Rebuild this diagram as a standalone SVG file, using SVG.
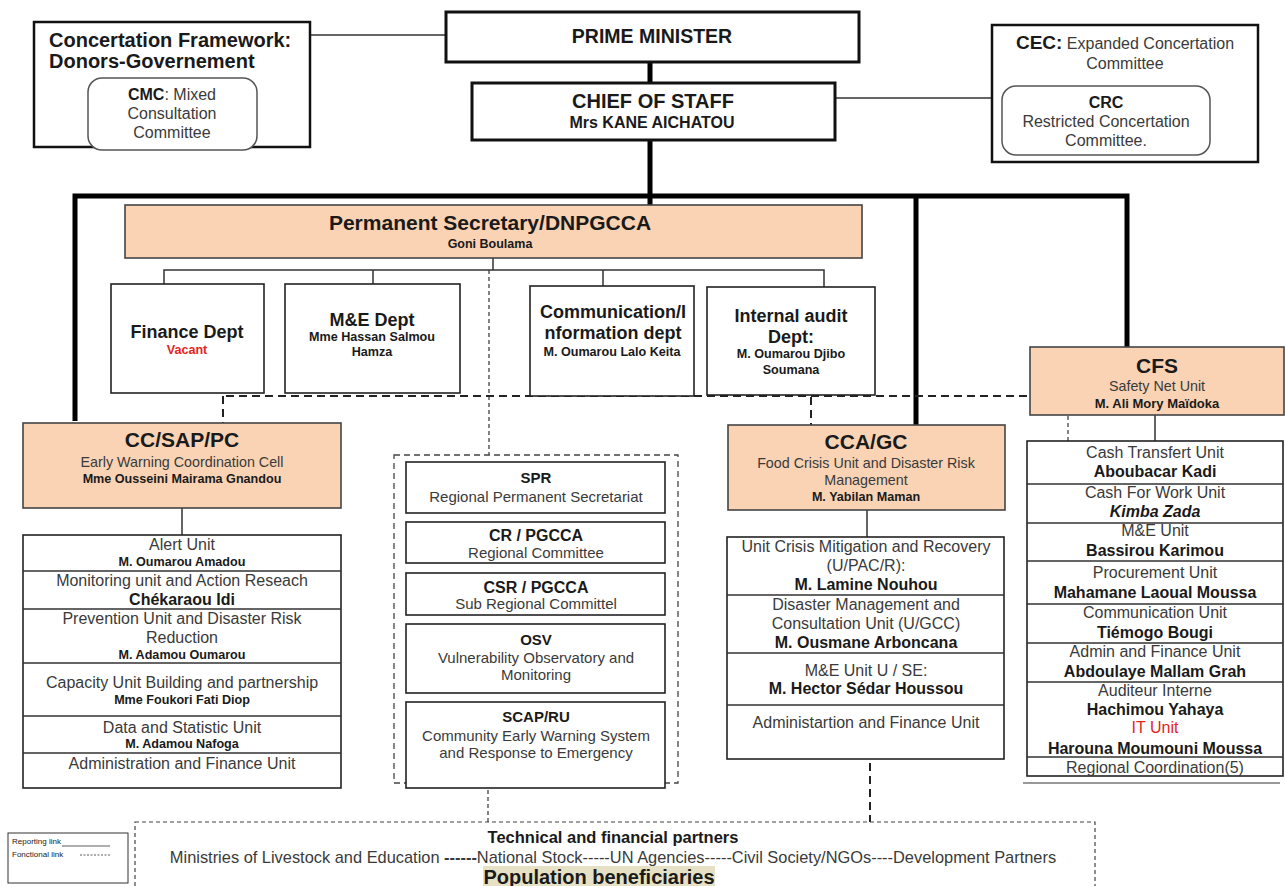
<svg xmlns="http://www.w3.org/2000/svg" width="1285" height="886" viewBox="0 0 1285 886">
<style>
text{font-family:"Liberation Sans",Arial,sans-serif;fill:#1a1a1a;text-anchor:middle}
.b{font-weight:bold}
.r{fill:#3a3a3a}
.s{text-anchor:start}
.box{fill:#fff;stroke:#222;stroke-width:1.6}
.peach{fill:#f9d3b4;stroke:#444;stroke-width:1.6}
.thick{stroke:#000;stroke-width:5;fill:none}
.thin{stroke:#333;stroke-width:1.5;fill:none}
.dash{stroke:#222;stroke-width:2;stroke-dasharray:8 5;fill:none}
.dot{stroke:#333;stroke-width:1.2;stroke-dasharray:4 3;fill:none}
.red{fill:#e3241d}
.t14{font-size:16px}
.t15{font-size:15px}
.sub{font-size:14.3px}
.n{font-size:16px;font-weight:bold}
.sm{font-size:12.6px;font-weight:bold}
.h{font-size:21px;font-weight:bold}
.d{font-size:18px;font-weight:bold}
</style>
<rect width="1285" height="886" fill="#fff"/>

<g id="connectors">
  <path class="thin" d="M310 35H446M835 98H992"/>
  <path class="thick" d="M650 62V83M650 140V205M75 421V196H1127V347M916 196V425"/>
  <path class="thin" d="M493 258V270M164 284V270H824V287M373 270V284M603 270V286"/>
  <path class="dot" d="M489 270V455"/>
  <path class="dash" d="M226 396H1030M223 396V423M811 397V425"/>
  <path class="dot" d="M1068 416V460"/>
  <path class="thin" d="M182 508V535M867 510V537M1155 415V441"/>
  <path class="dash" d="M870 737V822"/>
  <path class="dot" d="M488 783V822"/>
  <path d="M1023 783H1280" stroke="#777" stroke-width="1.5"/>
</g>

<g id="concertation">
  <rect x="34" y="22" width="276" height="125" fill="#fff" stroke="#111" stroke-width="2.5"/>
  <text class="s b" x="49" y="47" font-size="20">Concertation Framework:</text>
  <text class="s b" x="49" y="68" font-size="20">Donors-Governement</text>
  <rect x="88" y="78" width="169" height="72" rx="14" fill="#fff" stroke="#555" stroke-width="1.5"/>
  <text class="r" x="172" y="100" font-size="16"><tspan class="b" fill="#1a1a1a">CMC</tspan>: Mixed</text>
  <text class="r" x="172" y="119" font-size="16">Consultation</text>
  <text class="r" x="172" y="138" font-size="16">Committee</text>
</g>

<g id="prime-minister">
  <rect x="446" y="12" width="413" height="50" fill="#fff" stroke="#111" stroke-width="3"/>
  <text class="b" x="652" y="43" font-size="19.5">PRIME MINISTER</text>
</g>

<g id="chief-of-staff">
  <rect x="472" y="83" width="363" height="57" fill="#fff" stroke="#111" stroke-width="3"/>
  <text class="b" x="653" y="108" font-size="20">CHIEF OF STAFF</text>
  <text class="b" x="652" y="128" font-size="16">Mrs KANE AICHATOU</text>
</g>

<g id="cec">
  <rect x="992" y="25" width="266" height="137" fill="#fff" stroke="#111" stroke-width="2.5"/>
  <text class="r" x="1125" y="49" font-size="16"><tspan class="b" font-size="19" fill="#1a1a1a">CEC:</tspan> Expanded Concertation</text>
  <text class="r" x="1125" y="69" font-size="16">Committee</text>
  <rect x="1002" y="86" width="208" height="69" rx="14" fill="#fff" stroke="#555" stroke-width="1.5"/>
  <text class="b" x="1106" y="108" font-size="16">CRC</text>
  <text class="r" x="1106" y="127" font-size="16">Restricted Concertation</text>
  <text class="r" x="1106" y="146" font-size="16">Committee.</text>
</g>

<g id="permanent-secretary">
  <rect class="peach" x="125" y="205" width="737" height="53"/>
  <text class="h" x="490" y="230">Permanent Secretary/DNPGCCA</text>
  <text class="b" x="490" y="248" font-size="12.5">Goni Boulama</text>
</g>

<g id="finance-dept">
  <rect class="box" x="111" y="284" width="153" height="109"/>
  <text class="d" x="187" y="338">Finance Dept</text>
  <text class="sm red" x="187" y="354">Vacant</text>
</g>

<g id="me-dept">
  <rect class="box" x="285" y="284" width="175" height="109"/>
  <text class="d" x="372" y="326">M&amp;E Dept</text>
  <text class="sm" x="372" y="341">Mme Hassan Salmou</text>
  <text class="sm" x="372" y="356">Hamza</text>
</g>

<g id="communication-dept">
  <rect class="box" x="530" y="286" width="164" height="110"/>
  <text class="d" x="613" y="318">Communication/I</text>
  <text class="d" x="613" y="339">nformation dept</text>
  <text class="sm" x="612" y="356">M. Oumarou Lalo Keita</text>
</g>

<g id="audit-dept">
  <rect class="box" x="707" y="287" width="168" height="108"/>
  <text class="d" x="791" y="322">Internal audit</text>
  <text class="d" x="791" y="343">Dept:</text>
  <text class="sm" x="791" y="358">M. Oumarou Djibo</text>
  <text class="sm" x="791" y="374">Soumana</text>
</g>

<g id="cc-sap-pc">
  <rect class="peach" x="23" y="423" width="318" height="85"/>
  <text class="h" x="182" y="447">CC/SAP/PC</text>
  <text class="r sub" x="182" y="467">Early Warning Coordination Cell</text>
  <text class="sm" x="182" y="483">Mme Ousseini Mairama Gnandou</text>
</g>

<g id="cc-units">
  <rect class="box" x="23" y="535" width="318" height="253"/>
  <path class="thin" d="M23 571H341M23 609H341M23 663H341M23 716H341M23 753H341"/>
  <text class="r t14" x="182" y="550">Alert Unit</text>
  <text class="sm" x="182" y="566">M. Oumarou Amadou</text>
  <text class="r t14" x="182" y="586">Monitoring unit and Action Reseach</text>
  <text class="n" x="182" y="605">Chékaraou Idi</text>
  <text class="r t14" x="182" y="624">Prevention Unit and Disaster Risk</text>
  <text class="r t14" x="182" y="643">Reduction</text>
  <text class="sm" x="182" y="659">M. Adamou Oumarou</text>
  <text class="r t14" x="182" y="688">Capacity Unit Building and partnership</text>
  <text class="sm" x="182" y="704">Mme Foukori Fati Diop</text>
  <text class="r t14" x="182" y="733">Data and Statistic Unit</text>
  <text class="sm" x="182" y="748">M. Adamou Nafoga</text>
  <text class="r t14" x="182" y="769">Administration and Finance Unit</text>
</g>

<g id="regional">
  <rect x="394" y="455" width="284" height="328" fill="none" stroke="#444" stroke-width="1.3" stroke-dasharray="6 4"/>
  <rect class="box" x="406" y="462" width="259" height="51"/>
  <text class="b" x="536" y="483" font-size="15">SPR</text>
  <text class="r t15" x="536" y="502">Regional Permanent Secretariat</text>
  <rect class="box" x="406" y="522" width="259" height="41"/>
  <text class="b" x="536" y="541" font-size="16">CR / PGCCA</text>
  <text class="r t15" x="536" y="558">Regional Committee</text>
  <rect class="box" x="406" y="573" width="259" height="42"/>
  <text class="b" x="536" y="593" font-size="16">CSR / PGCCA</text>
  <text class="r t15" x="536" y="609">Sub Regional Committel</text>
  <rect class="box" x="406" y="624" width="259" height="69"/>
  <text class="b" x="536" y="645" font-size="15">OSV</text>
  <text class="r t15" x="536" y="663">Vulnerability Observatory and</text>
  <text class="r t15" x="536" y="680">Monitoring</text>
  <rect class="box" x="406" y="702" width="259" height="86"/>
  <text class="b" x="536" y="722" font-size="15">SCAP/RU</text>
  <text class="r t15" x="536" y="741">Community Early Warning System</text>
  <text class="r t15" x="536" y="758">and Response to Emergency</text>
</g>

<g id="cca-gc">
  <rect class="peach" x="728" y="425" width="277" height="85"/>
  <text class="h" x="866" y="449">CCA/GC</text>
  <text class="r sub" x="866" y="468">Food Crisis Unit and Disaster Risk</text>
  <text class="r sub" x="866" y="485">Management</text>
  <text class="sm" x="866" y="501">M. Yabilan Maman</text>
</g>

<g id="cca-units">
  <rect class="box" x="727" y="537" width="277" height="222"/>
  <path class="thin" d="M727 595H1004M727 653H1004M727 705H1004"/>
  <text class="r t14" x="866" y="552">Unit Crisis Mitigation and Recovery</text>
  <text class="r t14" x="866" y="571">(U/PAC/R):</text>
  <text class="n" x="866" y="590">M. Lamine Nouhou</text>
  <text class="r t14" x="866" y="610">Disaster Management and</text>
  <text class="r t14" x="866" y="629">Consultation Unit (U/GCC)</text>
  <text class="n" x="866" y="648">M. Ousmane Arboncana</text>
  <text class="r t14" x="866" y="676">M&amp;E Unit U / SE:</text>
  <text class="n" x="866" y="694">M. Hector Sédar Houssou</text>
  <text class="r t14" x="866" y="728">Administartion and Finance Unit</text>
</g>

<g id="cfs">
  <rect class="peach" x="1030" y="347" width="254" height="68"/>
  <text class="h" x="1157" y="373">CFS</text>
  <text class="r sub" x="1157" y="391">Safety Net Unit</text>
  <text class="b" x="1157" y="408" font-size="13">M. Ali Mory Maïdoka</text>
</g>

<g id="cfs-units">
  <rect class="box" x="1027" y="441" width="256" height="335"/>
  <path class="thin" d="M1027 484H1283M1027 523H1283M1027 561H1283M1027 604H1283M1027 643H1283M1027 682H1283M1027 757H1283"/>
  <text class="r t14" x="1155" y="458">Cash Transfert Unit</text>
  <text class="n" x="1155" y="477">Aboubacar Kadi</text>
  <text class="r t14" x="1155" y="498">Cash For Work Unit</text>
  <text class="n" x="1155" y="517" font-style="italic">Kimba Zada</text>
  <text class="r t14" x="1155" y="536">M&amp;E Unit</text>
  <text class="n" x="1155" y="556">Bassirou Karimou</text>
  <text class="r t14" x="1155" y="578">Procurement Unit</text>
  <text class="n" x="1155" y="598">Mahamane Laoual Moussa</text>
  <text class="r t14" x="1155" y="618">Communication Unit</text>
  <text class="n" x="1155" y="638">Tiémogo Bougi</text>
  <text class="r t14" x="1155" y="657">Admin and Finance Unit</text>
  <text class="n" x="1155" y="677">Abdoulaye Mallam Grah</text>
  <text class="r t14" x="1155" y="696">Auditeur Interne</text>
  <text class="n" x="1155" y="715">Hachimou Yahaya</text>
  <text class="t14 red" x="1155" y="733">IT Unit</text>
  <text class="n" x="1155" y="754">Harouna Moumouni Moussa</text>
  <text class="r t14" x="1155" y="773">Regional Coordination(5)</text>
</g>

<g id="partners">
  <rect x="135" y="822" width="960" height="80" fill="none" stroke="#444" stroke-width="1.2" stroke-dasharray="4 3"/>
  <text class="b" x="613" y="843" font-size="16.5">Technical and financial partners</text>
  <text class="r" x="613" y="863" font-size="16.4">Ministries of Livestock and Education <tspan class="b">------</tspan>National Stock-----UN Agencies-----Civil Society/NGOs----Development Partners</text>
  <rect x="483" y="866" width="232" height="20" fill="#e6e1c5"/>
  <text class="b" x="599" y="884" font-size="20">Population beneficiaries</text>
</g>

<g id="legend">
  <rect x="8" y="833" width="120" height="50" fill="#fff" stroke="#333" stroke-width="1"/>
  <text class="s" x="12" y="844" font-size="8">Reporting link</text>
  <path d="M62 846H110" stroke="#333" stroke-width="0.8"/>
  <text class="s" x="12" y="857" font-size="8">Fonctional link</text>
  <path d="M80 855H110" stroke="#333" stroke-width="0.8" stroke-dasharray="2 1.5"/>
</g>
</svg>
